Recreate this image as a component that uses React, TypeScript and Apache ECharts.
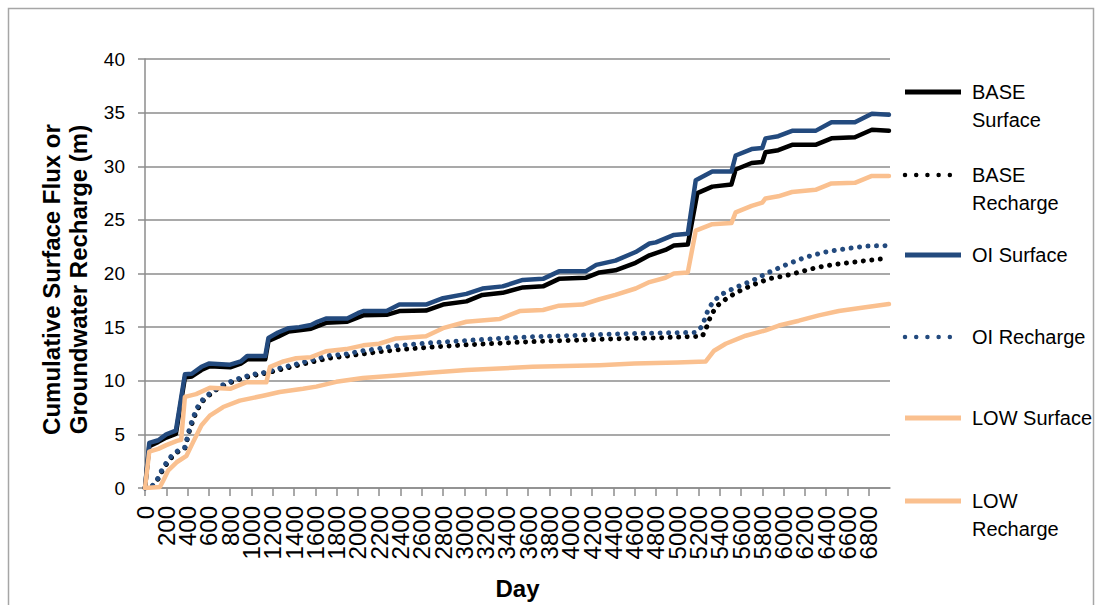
import React, { useEffect, useRef } from "react";
import * as echarts from "echarts";

// ---------- data ----------
const tickDays = [
  0, 200, 400, 600, 800, 1000, 1200, 1400, 1600, 1800, 2000, 2200, 2400, 2600, 2800, 3000, 3200, 3400,
  3600, 3800, 4000, 4200, 4400, 4600, 4800, 5000, 5200, 5400, 5600, 5800, 6000, 6200, 6400, 6600, 6800,
];
const yTicks = [0, 5, 10, 15, 20, 25, 30, 35, 40];

const seriesNames = ["BASE Surface", "BASE Recharge", "OI Surface", "OI Recharge", "LOW Surface", "LOW Recharge"];
const legendLines = [["BASE", "Surface"], ["BASE", "Recharge"], ["OI Surface"], ["OI Recharge"], ["LOW Surface"], ["LOW", "Recharge"]];

const baseSurface = [
  [0, 0], [40, 3.9], [125, 4.3], [200, 4.7], [290, 5.05], [375, 10.3], [440, 10.4], [530, 11.0], [610, 11.35],
  [800, 11.25], [900, 11.6], [960, 12.0], [1130, 12.0], [1160, 13.7], [1250, 14.1], [1350, 14.6], [1450, 14.7],
  [1560, 14.85], [1700, 15.4], [1900, 15.5], [2050, 16.1], [2270, 16.15], [2390, 16.5], [2640, 16.55], [2800, 17.1],
  [3020, 17.4], [3170, 18.0], [3360, 18.2], [3550, 18.7], [3740, 18.8], [3890, 19.5], [4140, 19.6], [4270, 20.1],
  [4420, 20.3], [4610, 21.0], [4740, 21.7], [4890, 22.2], [4970, 22.6], [5100, 22.7], [5190, 27.5], [5330, 28.1],
  [5510, 28.3], [5550, 29.7], [5700, 30.3], [5800, 30.4], [5830, 31.3], [5950, 31.5], [6080, 32.0], [6300, 32.0],
  [6450, 32.6], [6670, 32.7], [6830, 33.4], [6990, 33.3],
];
const baseRecharge = [
  [0, 0], [60, 0.05], [110, 0.6], [156, 1.5], [203, 2.25], [250, 2.85], [312, 3.4], [375, 3.7], [422, 5.5],
  [484, 7.2], [547, 8.15], [625, 8.85], [703, 9.4], [797, 9.8], [890, 10.15], [1015, 10.5], [1140, 10.7],
  [1234, 10.95], [1360, 11.25], [1480, 11.55], [1610, 11.85], [1730, 12.1], [1890, 12.3], [2050, 12.5],
  [2200, 12.7], [2390, 12.9], [2700, 13.15], [3020, 13.35], [3330, 13.5], [3640, 13.65], [3960, 13.75],
  [4390, 13.9], [4800, 14.0], [5237, 14.15], [5290, 15.3], [5316, 16.1], [5378, 17.0], [5456, 17.6],
  [5550, 18.2], [5700, 18.9], [5860, 19.5], [6020, 19.8], [6175, 20.2], [6330, 20.6], [6520, 20.9],
  [6770, 21.2], [6960, 21.4],
];
const oiSurface = [
  [0, 0], [40, 4.2], [125, 4.45], [200, 5.0], [290, 5.35], [375, 10.6], [440, 10.65], [530, 11.3], [600, 11.6],
  [800, 11.5], [900, 11.8], [960, 12.3], [1130, 12.3], [1160, 14.0], [1250, 14.5], [1350, 14.9], [1450, 15.0],
  [1560, 15.2], [1620, 15.5], [1700, 15.8], [1900, 15.8], [2000, 16.3], [2050, 16.5], [2270, 16.5], [2390, 17.1],
  [2640, 17.1], [2800, 17.7], [3020, 18.1], [3170, 18.6], [3360, 18.8], [3550, 19.4], [3740, 19.5], [3890, 20.2],
  [4140, 20.2], [4240, 20.8], [4420, 21.2], [4610, 22.0], [4740, 22.8], [4800, 22.9], [4970, 23.6], [5100, 23.7],
  [5175, 28.7], [5330, 29.5], [5510, 29.5], [5550, 31.0], [5700, 31.6], [5800, 31.7], [5830, 32.6], [5950, 32.8],
  [6080, 33.3], [6300, 33.3], [6450, 34.1], [6670, 34.1], [6830, 34.9], [6990, 34.8],
];
const oiRecharge = [
  [0, 0], [60, 0.1], [110, 0.7], [156, 1.65], [203, 2.4], [250, 3.0], [312, 3.5], [375, 3.8], [422, 5.7],
  [484, 7.4], [547, 8.3], [625, 8.95], [703, 9.5], [797, 9.9], [890, 10.25], [1015, 10.6], [1140, 10.8],
  [1234, 11.1], [1360, 11.4], [1480, 11.7], [1610, 12.05], [1730, 12.35], [1890, 12.5], [2050, 12.8],
  [2200, 13.0], [2390, 13.3], [2700, 13.55], [3020, 13.75], [3330, 13.95], [3640, 14.1], [3960, 14.2],
  [4390, 14.35], [4800, 14.45], [5175, 14.5], [5237, 15.1], [5270, 16.1], [5300, 16.8], [5350, 17.5],
  [5425, 18.1], [5550, 18.7], [5700, 19.3], [5860, 20.1], [6020, 20.8], [6200, 21.5], [6390, 22.0],
  [6580, 22.3], [6770, 22.55], [6960, 22.6],
];
const lowSurface = [
  [0, 0], [40, 3.4], [125, 3.65], [200, 4.0], [300, 4.4], [340, 4.5], [375, 8.5], [480, 8.75], [610, 9.35],
  [800, 9.25], [950, 9.85], [1140, 9.85], [1175, 11.3], [1300, 11.8], [1420, 12.1], [1560, 12.2], [1700, 12.75],
  [1890, 12.95], [2050, 13.3], [2200, 13.45], [2360, 13.95], [2640, 14.15], [2800, 14.9], [3020, 15.5],
  [3330, 15.75], [3520, 16.5], [3740, 16.6], [3890, 17.0], [4110, 17.1], [4270, 17.6], [4420, 18.0],
  [4610, 18.6], [4740, 19.2], [4890, 19.6], [4970, 20.0], [5100, 20.1], [5175, 24.0], [5330, 24.6],
  [5510, 24.7], [5550, 25.7], [5700, 26.3], [5800, 26.6], [5830, 27.0], [5950, 27.2], [6080, 27.6],
  [6300, 27.8], [6450, 28.4], [6670, 28.45], [6830, 29.1], [6990, 29.1],
];
const lowRecharge = [
  [0, 0], [140, 0.1], [172, 0.7], [219, 1.65], [297, 2.4], [390, 3.0], [453, 4.3], [531, 5.85], [609, 6.75],
  [734, 7.55], [890, 8.15], [1110, 8.6], [1265, 8.95], [1484, 9.25], [1609, 9.45], [1797, 9.9], [2047, 10.25],
  [2360, 10.5], [2670, 10.75], [3020, 11.0], [3640, 11.3], [4270, 11.45], [4600, 11.6], [5000, 11.7],
  [5269, 11.8], [5347, 12.8], [5456, 13.45], [5644, 14.2], [5831, 14.7], [5956, 15.15], [6144, 15.6],
  [6331, 16.1], [6519, 16.5], [6769, 16.85], [6990, 17.15],
];

const seriesData = [baseSurface, baseRecharge, oiSurface, oiRecharge, lowSurface, lowRecharge];

// ---------- styles ----------
const BLUE = "#234A7E";
const ORANGE = "#FAC08F";
const seriesColors = ["#000000", "#000000", BLUE, BLUE, ORANGE, ORANGE];
const seriesDotted = [false, true, false, true, false, false];
const FONT = "'Liberation Sans', Arial, sans-serif";
const X_MAX = 7000;

export default function App() {
  const ref = useRef<HTMLDivElement>(null);

  useEffect(() => {
    if (!ref.current) return;
    const chart = echarts.init(ref.current, null, { renderer: "svg" });

    const series = seriesNames.map((name, i) => ({
      name,
      type: "line",
      xAxisIndex: 0,
      data: seriesData[i],
      symbol: "none",
      smooth: false,
      lineStyle: seriesDotted[i]
        ? { color: seriesColors[i], width: 5, type: [0.01, 8.5], cap: "round" }
        : { color: seriesColors[i], width: 4.5, cap: "round", join: "round" },
      itemStyle: { color: seriesColors[i] },
      z: 2 + i,
    }));

    const legendY = [92, 175, 255, 337, 418, 501];
    const graphics: any[] = [
      {
        type: "rect",
        shape: { x: 8.5, y: 8.5, width: 1085, height: 640 },
        style: { fill: "none", stroke: "#a6a6a6", lineWidth: 1.5 },
        silent: true,
      },
    ];
    seriesNames.forEach((_, i) => {
      const y = legendY[i];
      graphics.push({
        type: "line",
        shape: { x1: 905, y1: y, x2: 961, y2: y },
        style: seriesDotted[i]
          ? { stroke: seriesColors[i], lineWidth: 4.5, lineDash: [0.01, 11.2], lineCap: "round" }
          : { stroke: seriesColors[i], lineWidth: 5 },
        silent: true,
      });
      legendLines[i].forEach((t, k) => {
        graphics.push({
          type: "text",
          x: 972,
          y: y + k * 28,
          style: { text: t, font: `20px ${FONT}`, fill: "#000", verticalAlign: "middle", align: "left" },
          silent: true,
        });
      });
    });

    // label axis: one category per 200-day step, plus an unlabeled end slot at X_MAX
    const labelCategories = [...tickDays.map(String), ""];

    chart.setOption({
      animation: false,
      backgroundColor: "#fff",
      textStyle: { fontFamily: FONT },
      grid: { left: 145, right: 209, top: 59, bottom: 115, containLabel: false },
      xAxis: [
        {
          type: "value",
          min: 0,
          max: X_MAX,
          interval: 200,
          position: "bottom",
          name: "Day",
          nameLocation: "middle",
          nameGap: 88,
          nameTextStyle: { fontSize: 24, fontWeight: "bold", color: "#000", fontFamily: FONT },
          axisLine: { show: true, lineStyle: { color: "#8c8c8c", width: 1.5 } },
          axisTick: { show: true, length: 8, customValues: tickDays, lineStyle: { color: "#8c8c8c", width: 1.5 } },
          axisLabel: { show: false },
          splitLine: { show: false },
        },
        {
          type: "category",
          data: labelCategories,
          boundaryGap: false,
          position: "bottom",
          axisLine: { show: false },
          axisTick: { show: false },
          splitLine: { show: false },
          axisLabel: {
            interval: 0,
            rotate: 90,
            margin: 18,
            fontSize: 24,
            color: "#000",
            fontFamily: FONT,
          },
        },
      ],
      yAxis: {
        type: "value",
        min: yTicks[0],
        max: yTicks[yTicks.length - 1],
        interval: 5,
        name: "Cumulative Surface Flux or\nGroundwater Recharge (m)",
        nameLocation: "middle",
        nameRotate: 90,
        nameGap: 53,
        nameTextStyle: {
          fontSize: 24,
          fontWeight: "bold",
          color: "#000",
          lineHeight: 27,
          fontFamily: FONT,
          padding: [0, 12, 0, 0],
        },
        axisLine: { show: true, lineStyle: { color: "#8c8c8c", width: 1.5 } },
        axisTick: { show: true, length: 7, lineStyle: { color: "#8c8c8c", width: 1.5 } },
        axisLabel: { margin: 20, fontSize: 19, color: "#000", fontFamily: FONT },
        splitLine: { show: true, lineStyle: { color: "#8c8c8c", width: 1.5 } },
      },
      series,
      graphic: graphics,
    });

    return () => chart.dispose();
  }, []);

  return (
    <div
      ref={ref}
      style={{ position: "fixed", left: 0, top: 0, width: 1099, height: 605, background: "#fff" }}
    />
  );
}
